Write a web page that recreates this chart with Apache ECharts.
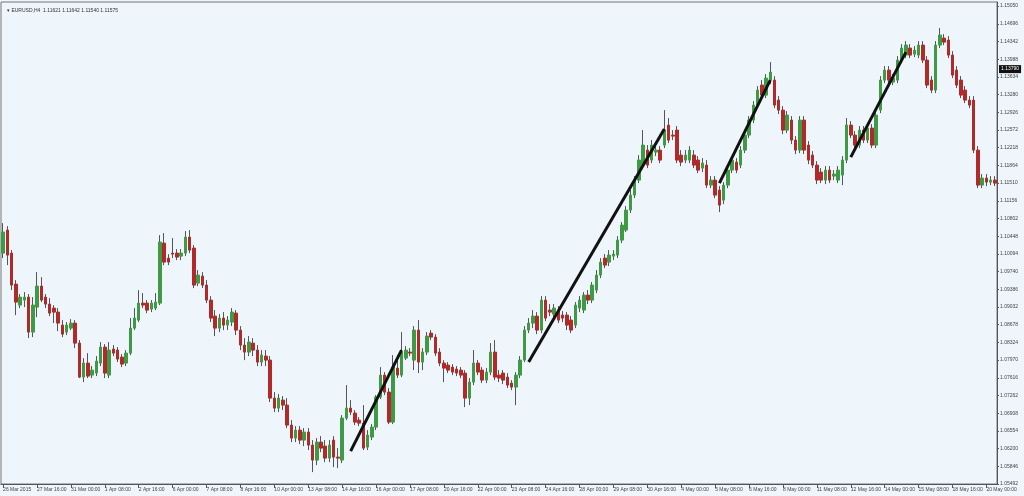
<!DOCTYPE html>
<html><head><meta charset="utf-8">
<script src="https://cdn.jsdelivr.net/npm/echarts@6/dist/echarts.min.js"></script>
<style>html,body{margin:0;padding:0;background:#EEF5FB;}#c{width:1024px;height:496px;}</style>
</head><body><div id="c"></div>
<script>
const opens = [
1.1011,1.1057,1.1011,1.0949,1.0907,1.0917,1.0923,1.0853,1.0903,1.0945,
1.0923,1.0909,1.0901,1.0893,1.0867,1.0853,1.0861,1.0871,1.0831,1.0763,
1.0791,1.0767,1.0771,1.0791,1.0823,1.0767,1.0819,1.0817,1.0803,1.0791,
1.0811,1.0861,1.0877,1.0911,1.0911,1.0899,1.0901,1.0911,1.1031,1.1001,
1.1011,1.1011,1.1005,1.1011,1.1043,1.1021,1.0951,1.0965,1.0947,1.0917,
1.0885,1.0861,1.0881,1.0867,1.0873,1.0891,1.0857,1.0827,1.0813,1.0831,
1.0817,1.0793,1.0805,1.0797,1.0721,1.0701,1.0717,1.0707,1.0667,1.0641,
1.0657,1.0637,1.0653,1.0627,1.0597,1.0633,1.0625,1.0601,1.0637,1.0603,
1.0597,1.0681,1.0701,1.0691,1.0677,1.0671,1.0623,1.0643,1.0663,1.0723,
1.0767,1.0733,1.0673,1.0781,1.0767,1.0801,1.0813,1.0797,1.0857,1.0793,
1.0813,1.0851,1.0843,1.0813,1.0791,1.0787,1.0783,1.0779,1.0777,1.0771,
1.0721,1.0753,1.0791,1.0777,1.0757,1.0773,1.0813,1.0767,1.0771,1.0763,
1.0751,1.0743,1.0767,1.0797,1.0857,1.0871,1.0885,1.0857,1.0917,1.0897,
1.0889,1.0897,1.0887,1.0887,1.0877,1.0867,1.0901,1.0897,1.0927,1.0917,
1.0937,1.0967,1.1001,1.0993,1.1005,1.1007,1.1037,1.1057,1.1097,1.1127,
1.1157,1.1187,1.1217,1.1197,1.1213,1.1217,1.1227,1.1267,1.1247,1.1257,
1.1207,1.1197,1.1197,1.1207,1.1197,1.1181,1.1187,1.1147,1.1157,1.1137,
1.1117,1.1147,1.1177,1.1193,1.1187,1.1217,1.1247,1.1277,1.1307,1.1347,
1.1327,1.1357,1.1357,1.1317,1.1297,1.1257,1.1277,1.1237,1.1217,1.1277,
1.1227,1.1207,1.1187,1.1173,1.1157,1.1177,1.1165,1.1157,1.1167,1.1197,
1.1267,1.1247,1.1227,1.1257,1.1237,1.1261,1.1227,1.1297,1.1357,1.1377,
1.1353,1.1357,1.1397,1.1407,1.1421,1.1409,1.1407,1.1427,1.1397,1.1357,
1.1337,1.1427,1.1441,1.1437,1.1407,1.1377,1.1357,1.1337,1.1317,1.1317,
1.1217,1.1147,1.1161,1.1153,1.1157];
const closes = [
1.1053,1.1007,1.0947,1.0913,1.0923,1.0923,1.0853,1.0907,1.0945,1.0917,
1.0909,1.0891,1.0893,1.0871,1.0849,1.0867,1.0871,1.0831,1.0763,1.0791,
1.0765,1.0777,1.0795,1.0823,1.0771,1.0817,1.0811,1.0799,1.0789,1.0811,
1.0861,1.0881,1.0911,1.0907,1.0897,1.0911,1.0913,1.1033,1.0993,1.0993,
1.1009,1.1003,1.1011,1.1043,1.1017,1.0947,1.0967,1.0947,1.0917,1.0881,
1.0861,1.0881,1.0867,1.0877,1.0893,1.0857,1.0827,1.0813,1.0833,1.0817,
1.0793,1.0807,1.0797,1.0721,1.0701,1.0721,1.0707,1.0667,1.0641,1.0657,
1.0637,1.0653,1.0627,1.0597,1.0633,1.0621,1.0601,1.0627,1.0603,1.0601,
1.0681,1.0701,1.0693,1.0673,1.0671,1.0621,1.0647,1.0663,1.0723,1.0767,
1.0733,1.0673,1.0783,1.0767,1.0813,1.0817,1.0811,1.0857,1.0793,1.0813,
1.0845,1.0843,1.0811,1.0791,1.0781,1.0777,1.0773,1.0771,1.0767,1.0721,
1.0753,1.0791,1.0773,1.0757,1.0773,1.0813,1.0763,1.0761,1.0757,1.0747,
1.0743,1.0767,1.0797,1.0857,1.0871,1.0885,1.0857,1.0917,1.0881,1.0893,
1.0901,1.0877,1.0881,1.0867,1.0857,1.0907,1.0917,1.0927,1.0917,1.0947,
1.0967,1.0993,1.0987,1.1007,1.1009,1.1037,1.1067,1.1097,1.1127,1.1157,
1.1197,1.1227,1.1187,1.1227,1.1217,1.1197,1.1257,1.1237,1.1245,1.1197,
1.1193,1.1207,1.1217,1.1187,1.1177,1.1191,1.1147,1.1157,1.1127,1.1107,
1.1147,1.1177,1.1197,1.1177,1.1217,1.1247,1.1277,1.1307,1.1337,1.1327,
1.1361,1.1373,1.1307,1.1297,1.1257,1.1287,1.1237,1.1217,1.1277,1.1217,
1.1197,1.1187,1.1157,1.1157,1.1177,1.1157,1.1169,1.1177,1.1197,1.1267,
1.1247,1.1227,1.1257,1.1237,1.1261,1.1227,1.1287,1.1357,1.1377,1.1357,
1.1361,1.1397,1.1421,1.1427,1.1407,1.1417,1.1427,1.1397,1.1347,1.1337,
1.1427,1.1447,1.1433,1.1407,1.1367,1.1347,1.1327,1.1317,1.1307,1.1217,
1.1147,1.1161,1.1153,1.1157,1.1151];
const lows = [
1.1001,1.0987,1.0937,1.0887,1.0901,1.0903,1.0841,1.0843,1.0883,1.0913,
1.0901,1.0885,1.0871,1.0855,1.0843,1.0847,1.0857,1.0821,1.0761,1.0753,
1.0761,1.0761,1.0765,1.0785,1.0761,1.0761,1.0805,1.0793,1.0783,1.0785,
1.0807,1.0857,1.0873,1.0901,1.0891,1.0893,1.0897,1.0907,1.0987,1.0987,
1.1001,1.0997,1.0997,1.1005,1.1011,1.0941,1.0945,1.0941,1.0911,1.0873,
1.0845,1.0853,1.0857,1.0857,1.0865,1.0847,1.0817,1.0797,1.0805,1.0805,
1.0785,1.0785,1.0785,1.0713,1.0693,1.0693,1.0697,1.0661,1.0633,1.0633,
1.0629,1.0625,1.0617,1.0573,1.0587,1.0613,1.0593,1.0593,1.0583,1.0581,
1.0591,1.0677,1.0687,1.0667,1.0665,1.0617,1.0617,1.0637,1.0657,1.0719,
1.0727,1.0669,1.0669,1.0761,1.0763,1.0797,1.0805,1.0777,1.0771,1.0777,
1.0807,1.0837,1.0805,1.0785,1.0753,1.0771,1.0767,1.0765,1.0761,1.0703,
1.0707,1.0747,1.0767,1.0751,1.0751,1.0767,1.0757,1.0753,1.0749,1.0741,
1.0737,1.0707,1.0761,1.0793,1.0851,1.0861,1.0849,1.0851,1.0875,1.0885,
1.0881,1.0871,1.0873,1.0857,1.0851,1.0861,1.0893,1.0891,1.0909,1.0911,
1.0931,1.0961,1.0981,1.0985,1.0997,1.1001,1.1031,1.1053,1.1091,1.1121,
1.1151,1.1181,1.1181,1.1191,1.1205,1.1191,1.1221,1.1231,1.1237,1.1191,
1.1185,1.1191,1.1191,1.1181,1.1171,1.1173,1.1141,1.1141,1.1121,1.1093,
1.1109,1.1141,1.1171,1.1171,1.1181,1.1211,1.1241,1.1271,1.1301,1.1321,
1.1321,1.1349,1.1301,1.1289,1.1249,1.1251,1.1229,1.1209,1.1211,1.1209,
1.1189,1.1181,1.1149,1.1151,1.1149,1.1151,1.1157,1.1151,1.1147,1.1191,
1.1241,1.1221,1.1221,1.1231,1.1231,1.1221,1.1221,1.1291,1.1351,1.1351,
1.1347,1.1351,1.1391,1.1401,1.1401,1.1403,1.1401,1.1391,1.1341,1.1331,
1.1331,1.1421,1.1427,1.1401,1.1361,1.1341,1.1321,1.1311,1.1301,1.1211,
1.1141,1.1141,1.1145,1.1147,1.1145];
const highs = [
1.1071,1.1065,1.1017,1.0957,1.0929,1.0933,1.0929,1.0923,1.0973,1.0963,
1.0929,1.0921,1.0907,1.0901,1.0877,1.0873,1.0879,1.0877,1.0837,1.0801,
1.0811,1.0785,1.0805,1.0833,1.0829,1.0833,1.0827,1.0823,1.0809,1.0817,
1.0881,1.0901,1.0937,1.0931,1.0917,1.0917,1.0931,1.1047,1.1051,1.1009,
1.1041,1.1019,1.1019,1.1055,1.1057,1.1027,1.0977,1.0973,1.0957,1.0925,
1.0897,1.0889,1.0893,1.0885,1.0901,1.0897,1.0865,1.0841,1.0845,1.0841,
1.0827,1.0817,1.0817,1.0805,1.0733,1.0729,1.0725,1.0721,1.0677,1.0665,
1.0665,1.0661,1.0661,1.0637,1.0641,1.0645,1.0637,1.0637,1.0645,1.0621,
1.0687,1.0747,1.0717,1.0697,1.0683,1.0707,1.0657,1.0669,1.0727,1.0783,
1.0773,1.0741,1.0807,1.0807,1.0853,1.0825,1.0821,1.0865,1.0877,1.0821,
1.0853,1.0857,1.0849,1.0821,1.0797,1.0793,1.0789,1.0785,1.0783,1.0777,
1.0761,1.0817,1.0797,1.0783,1.0781,1.0831,1.0837,1.0777,1.0777,1.0771,
1.0757,1.0773,1.0805,1.0865,1.0881,1.0897,1.0893,1.0925,1.0925,1.0909,
1.0909,1.0905,1.0895,1.0893,1.0885,1.0913,1.0925,1.0933,1.0937,1.0953,
1.0977,1.1001,1.1009,1.1017,1.1017,1.1045,1.1073,1.1105,1.1137,1.1165,
1.1207,1.1257,1.1227,1.1237,1.1225,1.1225,1.1297,1.1281,1.1257,1.1265,
1.1217,1.1217,1.1225,1.1217,1.1205,1.1201,1.1197,1.1165,1.1165,1.1145,
1.1153,1.1185,1.1205,1.1201,1.1225,1.1255,1.1285,1.1315,1.1345,1.1357,
1.1369,1.1393,1.1365,1.1325,1.1305,1.1295,1.1285,1.1245,1.1285,1.1285,
1.1235,1.1215,1.1195,1.1181,1.1185,1.1185,1.1177,1.1185,1.1205,1.1281,
1.1275,1.1255,1.1265,1.1265,1.1269,1.1269,1.1297,1.1365,1.1385,1.1385,
1.1369,1.1405,1.1429,1.1435,1.1429,1.1425,1.1435,1.1435,1.1405,1.1365,
1.1435,1.1461,1.1449,1.1445,1.1415,1.1385,1.1365,1.1345,1.1325,1.1325,
1.1225,1.1169,1.1169,1.1165,1.1165];
// trend lines: [startBar, startPrice, endBar, endPrice]
const trendLines = [
  [82, 1.0615, 94, 1.0817],
  [124, 1.0793, 156, 1.1259],
  [169, 1.1151, 181, 1.1357],
  [200, 1.1203, 213, 1.1413]
];
const markPrice = 1.13790;
const titleText = 'EURUSD,H4  1.11621 1.11642 1.11540 1.11575';
const yMin = 1.05492, yMax = 1.15132, yStep = 0.00354;

// H4 bar times, starting 26 Mar 2015 08:00, weekdays only
const MON = ['Jan','Feb','Mar','Apr','May','Jun','Jul','Aug','Sep','Oct','Nov','Dec'];
const categories = [];
(function(){
  let t = Date.UTC(2015, 2, 26, 8);
  while (categories.length < opens.length) {
    const d = new Date(t);
    const wd = d.getUTCDay();
    if (wd !== 0 && wd !== 6) {
      const hh = String(d.getUTCHours()).padStart(2, '0');
      categories.push(categories.length === 0
        ? d.getUTCDate() + ' ' + MON[d.getUTCMonth()] + ' ' + d.getUTCFullYear()
        : d.getUTCDate() + ' ' + MON[d.getUTCMonth()] + ' ' + hh + ':00');
    }
    t += 4 * 3600 * 1000;
  }
})();

const wickData = opens.map((o, i) => [o, closes[i], lows[i], highs[i]]);
const bodyData = opens.map((o, i) => [o, closes[i], Math.min(o, closes[i]), Math.max(o, closes[i])]);

const chart = echarts.init(document.getElementById('c'), null, {renderer: 'canvas'});
const FONT = 'Liberation Sans';
chart.setOption({
  animation: false,
  backgroundColor: '#EEF5FB',
  title: {
    text: '\u25BE ' + titleText, left: 2, top: 3,
    textStyle: {fontSize: 5, fontWeight: 'normal', color: '#333', fontFamily: FONT}
  },
  grid: {left: 1, right: 27, top: 2, bottom: 12, show: true, borderColor: '#777', borderWidth: 1},
  xAxis: {
    type: 'category', data: categories, boundaryGap: true,
    axisLine: {show: true, lineStyle: {color: '#555', width: 1}},
    axisTick: {show: true, interval: 7, alignWithLabel: true, length: 4, lineStyle: {color: '#555'}},
    axisLabel: {interval: 7, fontSize: 5, color: '#444', align: 'left', margin: 3, fontFamily: FONT},
    splitLine: {show: false}
  },
  yAxis: {
    type: 'value', position: 'right', min: yMin, max: yMax, interval: yStep,
    axisLine: {show: true, lineStyle: {color: '#555', width: 1}},
    axisTick: {show: true, length: 2, lineStyle: {color: '#555'}},
    axisLabel: {fontSize: 5, color: '#444', margin: 3, fontFamily: FONT, showMaxLabel: false,
      formatter: v => v.toFixed(5)},
    splitLine: {show: false}
  },
  series: [
    {
      type: 'candlestick', data: wickData, barWidth: 1, silent: true,
      itemStyle: {color: '#555', color0: '#555', borderColor: '#555', borderColor0: '#555', borderWidth: 1}
    },
    {
      type: 'candlestick', data: bodyData, barWidth: 3, silent: true,
      itemStyle: {color: '#3F9A45', color0: '#B02A2A', borderColor: '#3F9A45', borderColor0: '#B02A2A', borderWidth: 1},
      markLine: {
        silent: true, symbol: ['none', 'none'],
        lineStyle: {color: '#111', width: 3, type: 'solid'},
        label: {show: false},
        data: trendLines.map(t => [{coord: [t[0], t[1]]}, {coord: [t[2], t[3]]}])
      }
    },
    {
      type: 'line', data: [], silent: true,
      markLine: {
        silent: true, symbol: ['none', 'none'], precision: 5,
        lineStyle: {color: 'rgba(0,0,0,0)', width: 1},
        label: {show: true, position: 'end', distance: 2,
          formatter: p => Number(p.value).toFixed(5), color: '#fff', backgroundColor: '#111', fontSize: 5,
          padding: [2, 2, 1, 2], fontFamily: FONT},
        data: [{yAxis: markPrice}]
      }
    }
  ]
});
</script></body></html>
